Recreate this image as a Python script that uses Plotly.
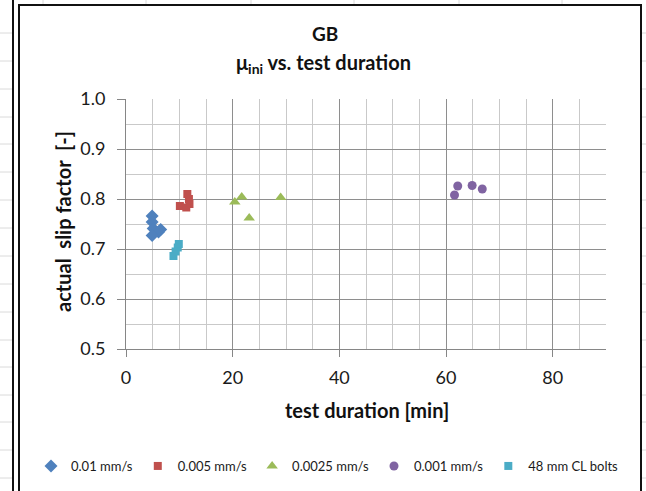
import plotly.graph_objects as go

# ---- data ----
names = ["0.01 mm/s", "0.005 mm/s", "0.0025 mm/s", "0.001 mm/s", "48 mm CL bolts"]
x_001 = [4.9, 4.9, 5.1, 6.5, 6.1, 4.9]
y_001 = [0.766, 0.754, 0.741, 0.739, 0.734, 0.727]
x_0005 = [10.1, 11.5, 11.8, 11.9, 11.3]
y_0005 = [0.786, 0.810, 0.800, 0.790, 0.783]
x_00025 = [20.4, 21.7, 29.0, 23.1]
y_00025 = [0.794, 0.804, 0.803, 0.762]
x_0001 = [62.2, 61.6, 64.9, 66.8]
y_0001 = [0.826, 0.808, 0.827, 0.820]
x_cl = [9.9, 9.7, 9.3, 8.9]
y_cl = [0.710, 0.703, 0.695, 0.686]
x_ticks = [0, 20, 40, 60, 80]
y_ticks = [0.5, 0.6, 0.7, 0.8, 0.9, 1.0]

# ---- styling ----
W, H = 646, 491
L, R, T, B = 126, 606, 99, 349
FONT = "Lato"
colors = ["#4F81BD", "#C0504D", "#9BBB59", "#8064A2", "#4BACC6"]
symbols = ["diamond", "square", "triangle-up", "circle", "square"]
sizes = [10, 8, 10, 9, 8]

def px_x(px):
    return (px - L) / (R - L)

def px_y(py):
    return (B - py) / (B - T)

fig = go.Figure()
series = [(x_001, y_001), (x_0005, y_0005), (x_00025, y_00025), (x_0001, y_0001), (x_cl, y_cl)]
for (xs, ys), n, c, s, sz in zip(series, names, colors, symbols, sizes):
    fig.add_trace(go.Scatter(x=xs, y=ys, mode="markers", name=n,
                             marker=dict(color=c, symbol=s, size=sz, line=dict(width=0))))

major = "#8e8e8e"
minor = "#c9c9c9"
fig.update_xaxes(range=[0, 90], tickvals=x_ticks, ticktext=[str(v) for v in x_ticks],
                 showgrid=True, gridcolor=major, gridwidth=1,
                 minor=dict(dtick=5, tick0=0, showgrid=True, gridcolor=minor, gridwidth=1, ticks=""),
                 showline=True, linecolor="#868686", linewidth=1,
                 ticks="outside", ticklen=7, tickcolor="#868686", ticklabelstandoff=5,
                 tickfont=dict(family=FONT, size=18, color="#1a1a1a"),
                 zeroline=False, fixedrange=True)
fig.update_yaxes(range=[0.5, 1.0], tickvals=y_ticks, ticktext=["%.1f" % v for v in y_ticks],
                 showgrid=True, gridcolor=major, gridwidth=1,
                 minor=dict(dtick=0.05, tick0=0.5, showgrid=True, gridcolor=minor, gridwidth=1, ticks=""),
                 showline=True, linecolor="#868686", linewidth=1,
                 ticks="outside", ticklen=8, tickcolor="#868686", ticklabelstandoff=8,
                 tickfont=dict(family=FONT, size=18, color="#1a1a1a"),
                 zeroline=False, fixedrange=True)

shapes = []
# chart border (black frame)
shapes.append(dict(type="rect", xref="paper", yref="paper",
                   x0=px_x(19), x1=px_x(641), y0=px_y(5), y1=px_y(520),
                   line=dict(color="#111", width=2), layer="below"))
# neighbouring chart edge on the left
shapes.append(dict(type="line", xref="paper", yref="paper",
                   x0=px_x(13), x1=px_x(13), y0=px_y(-5), y1=px_y(520),
                   line=dict(color="#111", width=2), layer="below"))
# faint spreadsheet grid outside the chart
for gy in [33, 61, 89, 117, 144, 172, 200, 228, 256, 284, 312, 340, 367, 395, 422, 450, 478]:
    shapes.append(dict(type="line", xref="paper", yref="paper",
                       x0=px_x(0), x1=px_x(12), y0=px_y(gy), y1=px_y(gy),
                       line=dict(color="#dadada", width=1), layer="below"))
    shapes.append(dict(type="line", xref="paper", yref="paper",
                       x0=px_x(642), x1=px_x(646), y0=px_y(gy), y1=px_y(gy),
                       line=dict(color="#dadada", width=1), layer="below"))
for gx in [43, 146, 251, 354, 459, 562]:
    shapes.append(dict(type="line", xref="paper", yref="paper",
                       x0=px_x(gx), x1=px_x(gx), y0=px_y(0), y1=px_y(4),
                       line=dict(color="#dadada", width=1), layer="below"))

annotations = [
    dict(text="<b>GB</b>", x=px_x(325), y=px_y(33), xref="paper", yref="paper",
         showarrow=False, xanchor="center", yanchor="middle",
         font=dict(family=FONT, size=19, color="#111")),
    dict(text="<b>μ<sub>ini</sub> vs. test duration</b>", x=px_x(323), y=px_y(63), xref="paper", yref="paper",
         showarrow=False, xanchor="center", yanchor="middle",
         font=dict(family=FONT, size=20, color="#111")),
    dict(text="<b>test duration [min]</b>", x=px_x(367), y=px_y(410), xref="paper", yref="paper",
         showarrow=False, xanchor="center", yanchor="middle",
         font=dict(family=FONT, size=20, color="#111")),
    dict(text="<b>actual\u00a0 slip factor\u00a0 [-]</b>", x=px_x(63), y=px_y(222), xref="paper", yref="paper",
         showarrow=False, xanchor="center", yanchor="middle", textangle=-90,
         font=dict(family=FONT, size=20, color="#111")),
]

fig.update_layout(
    width=W, height=H,
    margin=dict(l=L, r=W - R, t=T, b=H - B, autoexpand=False),
    paper_bgcolor="white", plot_bgcolor="white",
    showlegend=True,
    legend=dict(orientation="h", x=px_x(31), xanchor="left", y=px_y(466), yanchor="middle",
                font=dict(family=FONT, size=13, color="#1a1a1a"),
                itemwidth=30, tracegroupgap=0, bgcolor="rgba(0,0,0,0)"),
    shapes=shapes, annotations=annotations,
    font=dict(family=FONT),
)

fig.write_html("out.html", config={"displayModeBar": False})
